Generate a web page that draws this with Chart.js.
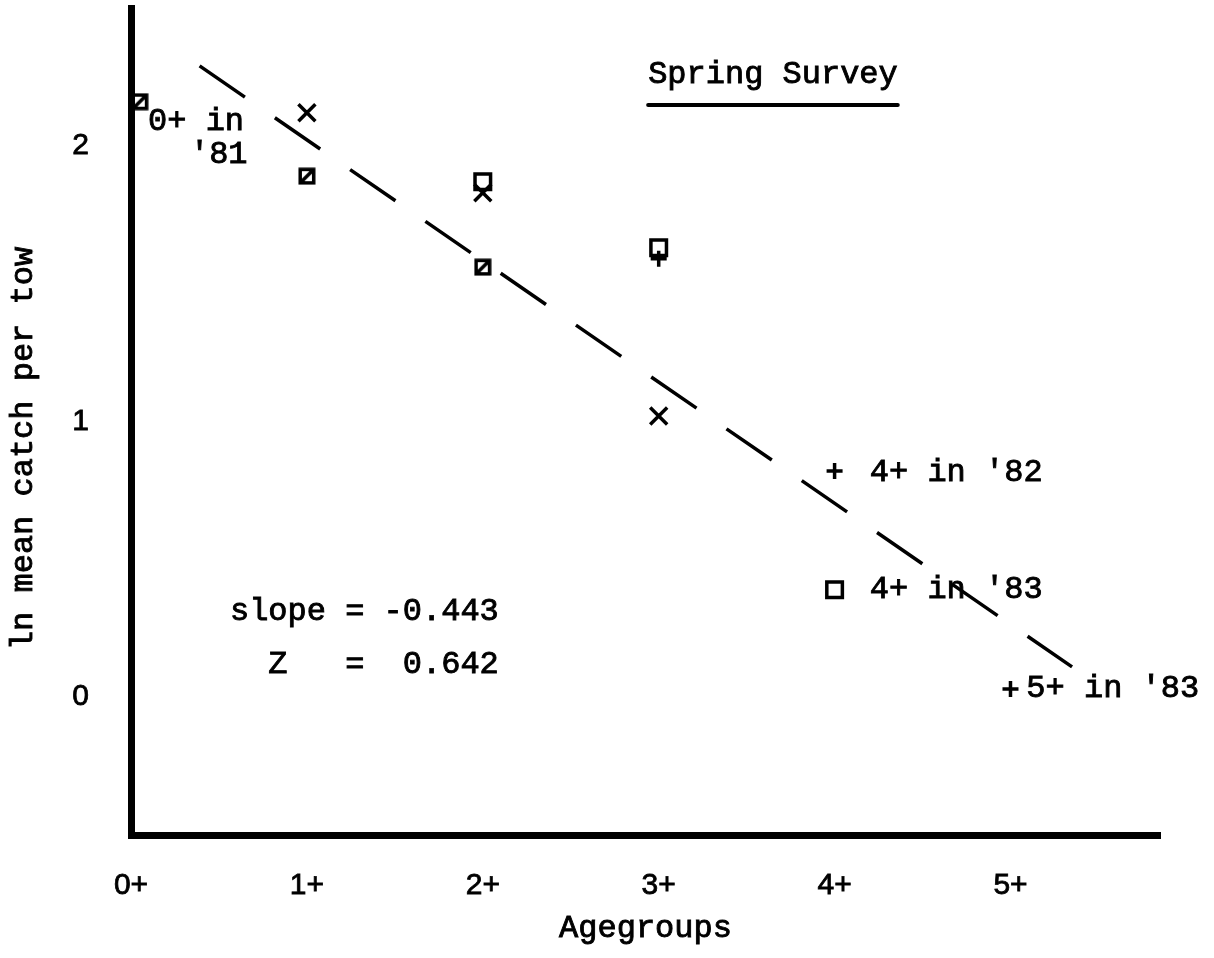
<!DOCTYPE html>
<html>
<head>
<meta charset="utf-8">
<title>Spring Survey - ln mean catch per tow</title>
<script src="https://cdn.jsdelivr.net/npm/chart.js@4.4.0/dist/chart.umd.min.js"></script>
<style>
    html, body { margin: 0; padding: 0; background: #fff; }
    #wrap { width: 1214px; height: 958px; }
</style>
</head>
<body>
<div id="wrap"><canvas id="catchChart" width="1214" height="958"></canvas></div>
<script>
// Age groups along the x axis
const ageTicks = [0, 1, 2, 3, 4, 5];
const ageLabels = ['0+', '1+', '2+', '3+', '4+', '5+'];
const lnTicks = [0, 1, 2];

// Slashed squares
const slashAges = [0.05, 1, 2];
const slashValues = [2.16, 1.89, 1.56];

// Open squares
const squareAges = [2, 3, 4];
const squareValues = [1.87, 1.63, 0.39];

// Crosses (x)
const crossAges = [1, 2, 3];
const crossValues = [2.12, 1.83, 1.02];

// Plus signs (+)
const plusAges = [3, 4, 5];
const plusValues = [1.59, 0.82, 0.03];

// Fitted regression line (dashed), end points
const fitAges = [0.39, 5.35];
const fitValues = [2.29, 0.11];

// Typed notes on the plot, anchored in data units
const notes = [
    { text: '0+ in', x: 0.097, y: 2.087 },
    { text: '\'81', x: 0.335, y: 1.97 },
    { text: '4+ in \'82', x: 4.2, y: 0.815 },
    { text: '4+ in \'83', x: 4.2, y: 0.39 },
    { text: '5+ in \'83', x: 5.09, y: 0.03 },
    { text: 'slope = -0.443', x: 0.5625, y: 0.31 },
    { text: '  Z   =  0.642', x: 0.5625, y: 0.12 },
    { text: 'Spring Survey', x: 2.94, y: 2.257, underline: true }
];

const MONO = '"Liberation Mono", "DejaVu Sans Mono", monospace';
const SANS = '"Liberation Sans", Arial, sans-serif';

function toPoints(xs, ys) {
    return xs.map((x, i) => ({ x: x, y: ys[i] }));
}

// square with a diagonal slash, used as a point image
function slashedSquare(size, lw) {
    const c = document.createElement('canvas');
    c.width = size;
    c.height = size;
    const g = c.getContext('2d');
    g.strokeStyle = '#000';
    g.lineWidth = lw;
    const p = lw / 2 + 0.5;
    g.strokeRect(p, p, size - 2 * p, size - 2 * p);
    g.beginPath();
    g.moveTo(p + 1, size - p - 1);
    g.lineTo(size - p - 1, p + 1);
    g.stroke();
    return c;
}

// typewriter text is a bit heavier than the font, so fill and stroke it
function typeText(ctx, text, x, y) {
    ctx.fillText(text, x, y);
    ctx.strokeText(text, x, y);
}

const notesPlugin = {
    id: 'typedNotes',
    afterDatasetsDraw(chart) {
        const ctx = chart.ctx;
        const xs = chart.scales.x;
        const ys = chart.scales.y;
        const area = chart.chartArea;
        ctx.save();
        ctx.fillStyle = '#000';
        ctx.strokeStyle = '#000';
        ctx.lineWidth = 0.9;
        ctx.font = '32px ' + MONO;
        ctx.textAlign = 'left';
        ctx.textBaseline = 'middle';
        notes.forEach(n => {
            const px = xs.getPixelForValue(n.x);
            const py = ys.getPixelForValue(n.y);
            typeText(ctx, n.text, px, py);
            if (n.underline) {
                const w = ctx.measureText(n.text).width;
                ctx.save();
                ctx.lineWidth = 4;
                ctx.lineCap = 'round';
                ctx.beginPath();
                ctx.moveTo(px, py + 30);
                ctx.lineTo(px + w, py + 30);
                ctx.stroke();
                ctx.restore();
            }
        });

        // x axis title
        ctx.textAlign = 'center';
        typeText(ctx, 'Agegroups', (area.left + area.right) / 2, 929);

        // y axis title, rotated
        ctx.translate(32, (area.top + area.bottom) / 2 + 27);
        ctx.rotate(-Math.PI / 2);
        ctx.textBaseline = 'alphabetic';
        typeText(ctx, 'ln mean catch per tow', 0, 0);
        ctx.restore();
    }
};

const ctx = document.getElementById('catchChart');

new Chart(ctx, {
    type: 'scatter',
    data: {
        datasets: [
            {
                label: 'fit',
                data: toPoints(fitAges, fitValues),
                showLine: true,
                borderColor: '#000',
                borderWidth: 3.5,
                borderDash: [55, 36.4],
                pointRadius: 0
            },
            {
                label: 'slashed squares',
                data: toPoints(slashAges, slashValues),
                pointStyle: slashedSquare(18, 3.5),
                pointRadius: 9
            },
            {
                label: 'squares',
                data: toPoints(squareAges, squareValues),
                pointStyle: 'rect',
                pointRadius: 11,
                borderColor: '#000',
                borderWidth: 3.5,
                backgroundColor: 'rgba(0, 0, 0, 0)'
            },
            {
                label: 'crosses',
                data: toPoints(crossAges, crossValues),
                pointStyle: 'crossRot',
                pointRadius: 12,
                borderColor: '#000',
                borderWidth: 3.5
            },
            {
                label: 'plus',
                data: toPoints(plusAges, plusValues),
                pointStyle: 'cross',
                pointRadius: 8,
                borderColor: '#000',
                borderWidth: 3.5
            }
        ]
    },
    options: {
        responsive: false,
        animation: false,
        layout: {
            autoPadding: false,
            padding: { left: 0, right: 54, top: 8, bottom: 0 }
        },
        plugins: {
            legend: { display: false },
            tooltip: { enabled: false }
        },
        scales: {
            x: {
                type: 'linear',
                min: 0,
                max: 5.85,
                afterFit: s => {
                    s.height = 123;
                    s.paddingLeft = 0;
                    s.paddingRight = 0;
                },
                afterBuildTicks: s => { s.ticks = ageTicks.map(v => ({ value: v })); },
                grid: { display: false, drawTicks: false },
                border: { display: true, color: '#000', width: 7 },
                ticks: {
                    padding: 33,
                    color: '#000',
                    textStrokeColor: '#000',
                    textStrokeWidth: 0.8,
                    maxRotation: 0,
                    autoSkip: false,
                    font: { family: SANS, size: 30 },
                    callback: v => ageLabels[ageTicks.indexOf(v)]
                },
                title: { display: false }
            },
            y: {
                type: 'linear',
                min: -0.5,
                max: 2.5,
                afterFit: s => {
                    s.width = 131;
                    s.paddingTop = 0;
                    s.paddingBottom = 0;
                },
                afterBuildTicks: s => { s.ticks = lnTicks.map(v => ({ value: v })); },
                grid: { display: false, drawTicks: false },
                border: { display: true, color: '#000', width: 7 },
                ticks: {
                    padding: 42,
                    color: '#000',
                    textStrokeColor: '#000',
                    textStrokeWidth: 0.8,
                    font: { family: SANS, size: 30 },
                    callback: v => String(v)
                },
                title: { display: false }
            }
        }
    },
    plugins: [notesPlugin]
});
</script>
</body>
</html>
